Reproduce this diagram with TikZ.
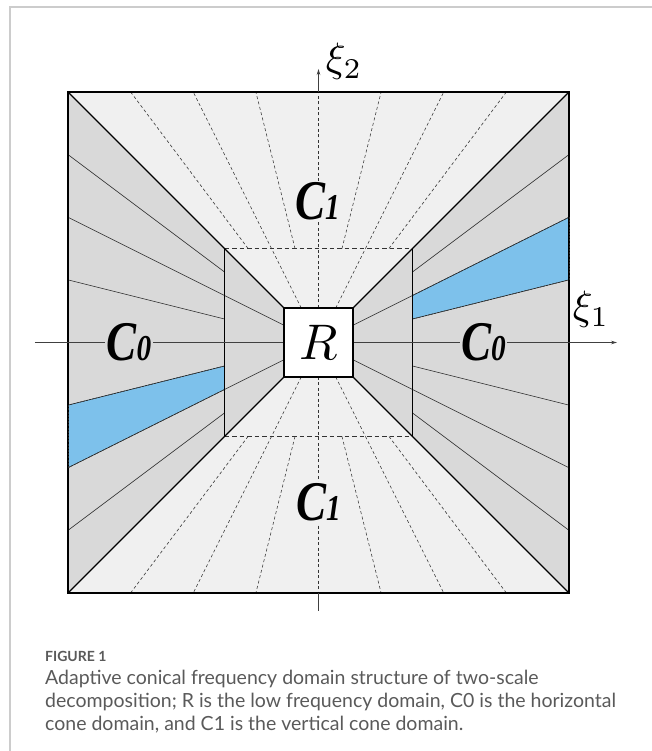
\documentclass[tikz,border=0pt]{standalone}
\usepackage{fontspec}
\setmainfont{Liberation Serif}
\newfontfamily\capfont{Lato}
\usetikzlibrary{arrows.meta}
\definecolor{conegray}{HTML}{D9D9D9}
\definecolor{conelight}{HTML}{F0F0F0}
\definecolor{coneblue}{HTML}{7DC1EB}
\definecolor{framegray}{HTML}{CCCCCC}
\definecolor{captext}{HTML}{5A5A5A}
\begin{document}
\begin{tikzpicture}[x=1pt,y=1pt,
  solidthin/.style={line width=0.6pt, black!85},
  dashthin/.style={line width=0.6pt, black!80, dash pattern=on 3pt off 2.5pt},
  dashedge/.style={line width=0.7pt, black!80, dash pattern=on 4.5pt off 3pt},
  blueedge/.style={line width=0.6pt, black!85, dash pattern=on 2pt off 1.2pt},
  axisline/.style={line width=0.6pt, black!75},
  arrowtip/.style={-{Stealth[length=6pt,width=3.5pt]}},
  clabel/.style={font=\fontsize{10}{12}\bfseries\itshape\selectfont, inner sep=0.3pt, xscale=4.5, yscale=5.6},
  caption/.style={font=\capfont\fontsize{19.5}{22}\selectfont, text=captext, anchor=base west, inner sep=0pt}]
\def\O{250.5}
\def\M{94}
\def\r{34.5}
\useasboundingbox (-318.5,-408.5) rectangle (333.5,342.5);
\fill[white] (-318.5,-408.5) rectangle (333.5,342.5);
\draw[framegray, line width=1.2pt] (-308.5,-408.5) -- (-308.5,335.5) -- (333.5,335.5);
% named corners
\coordinate (o) at (0,0);
\coordinate (ONE) at (\O,\O);
\coordinate (ONW) at (-\O,\O);
\coordinate (OSW) at (-\O,-\O);
\coordinate (OSE) at (\O,-\O);
\coordinate (RNE) at (\r,\r);
\coordinate (RNW) at (-\r,\r);
\coordinate (RSW) at (-\r,-\r);
\coordinate (RSE) at (\r,-\r);
% regions
\fill[conegray] (RNE) -- (ONE) -- (OSE) -- (RSE) -- cycle;
\fill[conegray] (RNW) -- (ONW) -- (OSW) -- (RSW) -- cycle;
\fill[conelight] (RNW) -- (ONW) -- (ONE) -- (RNE) -- cycle;
\fill[conelight] (RSW) -- (OSW) -- (OSE) -- (RSE) -- cycle;
% blue sub-cones
\fill[coneblue] (\M,{\M/4}) -- (\O,{\O/4}) -- (\O,{\O/2}) -- (\M,{\M/2}) -- cycle;
\fill[coneblue] (-\M,{-\M/4}) -- (-\O,{-\O/4}) -- (-\O,{-\O/2}) -- (-\M,{-\M/2}) -- cycle;
% radial lines, outer part
\foreach \k in {-3,-2,-1,1,2,3} {
  \draw[solidthin] (\M,{\M*\k/4}) -- (\O,{\O*\k/4});
  \draw[solidthin] (-\M,{\M*\k/4}) -- (-\O,{\O*\k/4});
  \draw[dashthin] ({\M*\k/4},\M) -- ({\O*\k/4},\O);
  \draw[dashthin] ({\M*\k/4},-\M) -- ({\O*\k/4},-\O);
}
% radial lines, inner part
\foreach \k in {-2,2} {
  \draw[solidthin] (\r,{\r*\k/4}) -- (\M,{\M*\k/4});
  \draw[solidthin] (-\r,{\r*\k/4}) -- (-\M,{\M*\k/4});
  \draw[dashthin] ({\r*\k/4},\r) -- ({\M*\k/4},\M);
  \draw[dashthin] ({\r*\k/4},-\r) -- ({\M*\k/4},-\M);
}
% vertical axis inside (dashed)
\draw[dashthin] (0,\r) -- (0,\O);
\draw[dashthin] (0,-\r) -- (0,-\O);
% blue borders
\draw[blueedge] (\M,{\M/4}) -- (\O,{\O/4});
\draw[blueedge] (\M,{\M/2}) -- (\O,{\O/2});
\draw[blueedge] (-\M,{-\M/4}) -- (-\O,{-\O/4});
\draw[blueedge] (-\M,{-\M/2}) -- (-\O,{-\O/2});
% middle square
\draw[line width=0.9pt, black] (\M,-\M) -- (\M,\M);
\draw[line width=0.9pt, black] (-\M,-\M) -- (-\M,\M);
\draw[dashedge] (-\M,\M) -- (\M,\M);
\draw[dashedge] (-\M,-\M) -- (\M,-\M);
% diagonals
\draw[line width=1.1pt, black] (ONE) -- (RNE);
\draw[line width=1.1pt, black] (ONW) -- (RNW);
\draw[line width=1.1pt, black] (OSW) -- (RSW);
\draw[line width=1.1pt, black] (OSE) -- (RSE);
% outer square
\draw[line width=1.4pt, black] (OSW) rectangle (ONE);
\draw[blueedge, line width=0.8pt] (\O,{\O/4}) -- (\O,{\O/2});
\draw[blueedge, line width=0.8pt] (-\O,{-\O/4}) -- (-\O,{-\O/2});
% axes
\coordinate (xl) at (-283.5,0);
\coordinate (xr) at (298.5,0);
\coordinate (yt) at (0,273.5);
\coordinate (yb) at (0,-268.5);
\draw[axisline] (xl) -- (-\r,0);
\draw[axisline, arrowtip] (\r,0) -- (xr);
\draw[axisline, arrowtip] (0,\O) -- (yt);
\draw[axisline] (0,-\O) -- (yb);
% low-frequency box
\draw[line width=1.3pt, black, fill=white] (RSW) rectangle (RNE);
\node[scale=5, inner sep=0pt] (R) at (0,0) {$R$};
% cone labels
\node[clabel, fill=conelight] (C1t) at (-1,141.5) {C{\fontsize{6.5}{7}\selectfont 1}};
\node[clabel, fill=conelight] (C1b) at (0,-160) {C{\fontsize{6.5}{7}\selectfont 1}};
\node[clabel, fill=conegray] (C0l) at (-189.5,0) {C{\fontsize{6.5}{7}\selectfont 0}};
\node[clabel, fill=conegray] (C0r) at (165,0) {C{\fontsize{6.5}{7}\selectfont 0}};
% axis labels
\node[scale=4.1, anchor=base west, inner sep=0pt] (xi2) at (6.5,270.5) {$\xi_2$};
\node[scale=4.1, anchor=base west, inner sep=0pt] (xi1) at (253.5,22.5) {$\xi_1$};
% caption
\node[caption, font=\capfont\fontsize{14}{16}\bfseries\selectfont] (fig) at (-273.5,-318.5) {FIGURE 1};
\node[caption] (cap1) at (-273.5,-341.5) {Adaptive conical frequency domain structure of two-scale};
\node[caption] (cap2) at (-273.5,-364.5) {decomposition; R is the low frequency domain, C0 is the horizontal};
\node[caption] (cap3) at (-273.5,-387.5) {cone domain, and C1 is the vertical cone domain.};
\end{tikzpicture}
\end{document}
